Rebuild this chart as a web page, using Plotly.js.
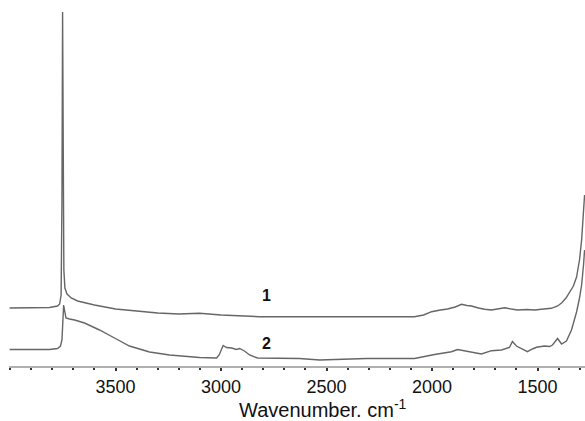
<!DOCTYPE html>
<html>
<head>
<meta charset="utf-8">
<script src="https://cdn.plot.ly/plotly-3.0.1.min.js"></script>
<style>html,body{margin:0;padding:0;background:#fff;}#chart{width:585px;height:421px;}</style>
</head>
<body>
<div id="chart"></div>
<script>
// Wavenumbers (cm-1) and signal heights (arbitrary units)
const wn1 = [4002, 3908, 3813, 3775, 3765, 3758, 3754, 3751, 3748, 3745, 3740, 3730, 3710, 3680, 3640, 3600, 3500, 3400, 3300, 3200, 3102, 3000, 2818, 2600, 2400, 2154, 2083, 2040, 2002, 1960, 1927, 1890, 1860, 1835, 1813, 1780, 1751, 1718, 1690, 1656, 1625, 1595, 1550, 1514, 1470, 1434, 1405, 1386, 1365, 1349, 1330, 1315, 1301, 1291, 1282, 1277];
const abs1 = [58, 58, 58.5, 60, 62, 71, 166, 354, 216, 96, 78, 72, 68, 65, 63, 61, 57, 55, 53, 52, 52.7, 51, 49.3, 49.3, 49.3, 49.3, 49.3, 51, 54.3, 56, 57, 59, 61.7, 60.5, 60, 58, 56.7, 56, 57, 58.3, 57, 56, 56.5, 56, 57, 57.7, 60, 63, 68, 73, 80, 89, 106, 126, 161, 171];
const wn2 = [4002, 3813, 3775, 3761, 3754, 3749, 3746, 3742, 3735, 3718, 3694, 3647, 3576, 3505, 3434, 3339, 3244, 3102, 3021, 3009, 3000, 2990, 2974, 2950, 2927, 2912, 2889, 2865, 2827, 2628, 2533, 2391, 2310, 2202, 2083, 1988, 1908, 1879, 1841, 1813, 1766, 1718, 1671, 1633, 1619, 1600, 1576, 1548, 1524, 1505, 1467, 1443, 1429, 1405, 1386, 1363, 1339, 1315, 1301, 1291, 1282, 1277];
const abs2 = [16.5, 16.5, 17.5, 20, 26, 46, 61, 56, 48, 47, 46, 43, 36, 28, 20, 14, 11, 8.5, 8, 11, 16, 20.5, 18.5, 18, 16.5, 17.5, 15, 11, 8, 7.5, 6, 7, 7.5, 7.5, 7.5, 11.5, 14.3, 16.5, 15, 13.3, 12, 15.3, 16, 18.5, 24.5, 20, 17, 14.3, 17, 18.7, 20, 19.5, 21, 27.5, 22, 25, 36, 54, 68, 81, 101, 116];
const tickVals = [3500, 3000, 2500, 2000, 1500];
const tickText = ["3500", "3000", "2500", "2000", "1500"];
const curveLabels = ["1", "2"];
const labelWn = [2785, 2785];
const labelAbs = [71, 23];

const lineStyle = {color: '#666666', width: 1.4};
const data = [
  {x: wn1, y: abs1, type: 'scatter', mode: 'lines', line: lineStyle, hoverinfo: 'skip'},
  {x: wn2, y: abs2, type: 'scatter', mode: 'lines', line: lineStyle, hoverinfo: 'skip'}
];
const annotations = curveLabels.map((t, i) => ({
  x: labelWn[i], y: labelAbs[i], xref: 'x', yref: 'y', text: '<b>' + t + '</b>',
  showarrow: false, font: {family: 'Liberation Sans, Arial, sans-serif', size: 16, color: '#111'}
}));
annotations.push({
  xref: 'paper', yref: 'paper', x: 0.545, y: 0, yshift: -42, yanchor: 'middle',
  text: 'Wavenumber. cm<sup>-1</sup>', showarrow: false,
  font: {family: 'Liberation Sans, Arial, sans-serif', size: 20, color: '#111'}
});
const layout = {
  width: 585, height: 421,
  margin: {l: 9, r: 0, t: 0, b: 55},
  paper_bgcolor: '#fff', plot_bgcolor: '#fff',
  showlegend: false,
  xaxis: {
    range: [4005, 1275], showgrid: false, zeroline: false,
    showline: true, linecolor: '#b0b0b0', linewidth: 2,
    tickmode: 'array', tickvals: tickVals, ticktext: tickText,
    ticks: 'outside', ticklen: 3, tickwidth: 2, tickcolor: '#333',
    minor: {dtick: 100, tick0: 4000, ticks: 'outside', ticklen: 2, tickwidth: 2, tickcolor: '#333', showgrid: false},
    tickfont: {family: 'Liberation Sans, Arial, sans-serif', size: 18, color: '#111'}
  },
  yaxis: {range: [0, 366], visible: false, showgrid: false, zeroline: false},
  annotations: annotations
};
Plotly.newPlot('chart', data, layout, {staticPlot: true, displayModeBar: false});
</script>
</body>
</html>
